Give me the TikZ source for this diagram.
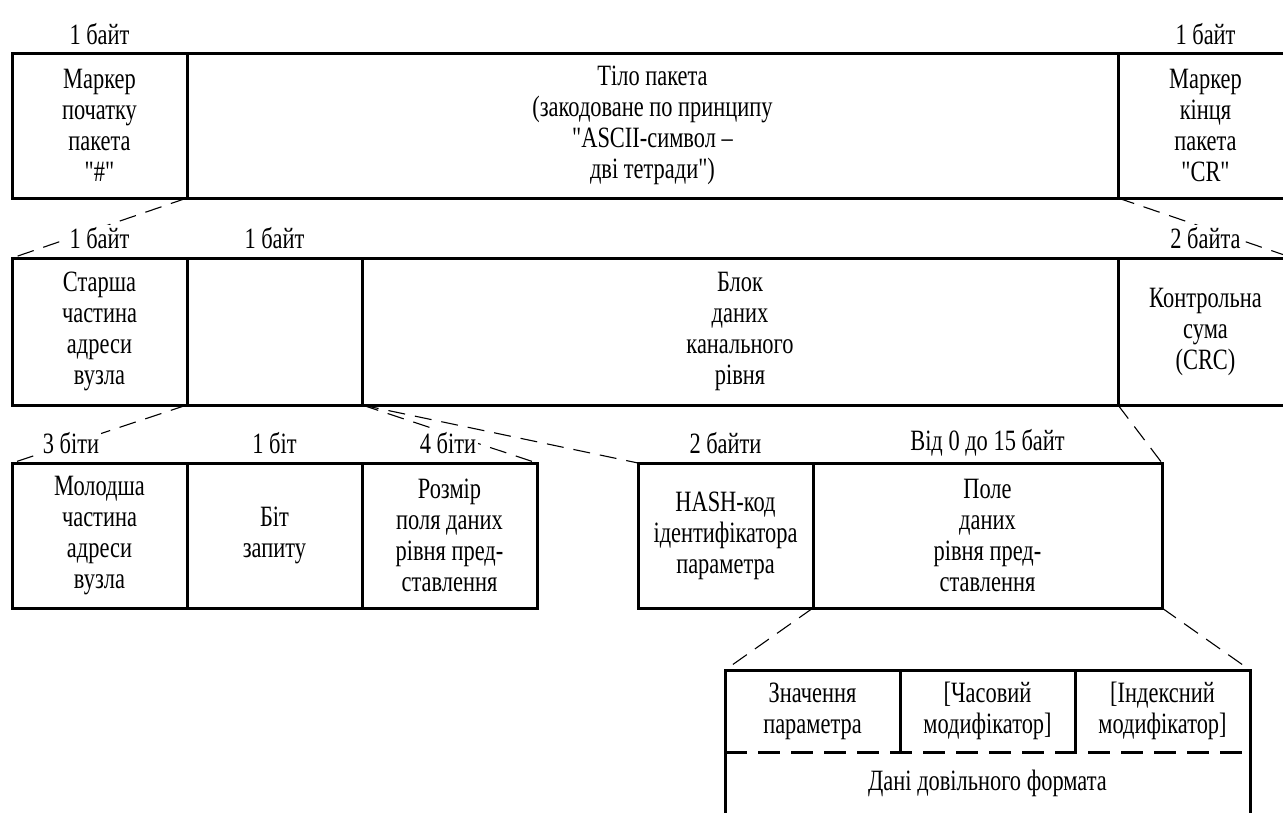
\documentclass[tikz,border=0pt]{standalone}
\usepackage{fontspec}
\setmainfont{Liberation Serif}[FakeStretch=0.76, Ligatures=TeXOff]
\usetikzlibrary{calc}
\newcommand\cellfont{\fontsize{29.5}{31}\selectfont}
\begin{document}
\begin{tikzpicture}[x=1pt,y=-1pt,
  cell/.style={draw, line width=3pt, outer sep=0pt, inner sep=2pt,
    align=center, font=\cellfont, minimum width=175pt},
  row1/.style={cell, minimum height=145pt},
  row2/.style={cell, minimum height=147pt},
  row3/.style={cell, minimum height=145pt},
  sub/.style={outer sep=0pt, inner sep=0pt, align=center, font=\cellfont,
    minimum width=175pt, minimum height=82pt},
  frame/.style={line width=3pt},
  split/.style={line width=3pt, dash pattern=on 22pt off 11pt},
  proj/.style={line width=1.1pt, dash pattern=on 17pt off 10pt},
  lbl/.style={fill=white, inner sep=2pt, font=\cellfont}]
\useasboundingbox (0,0) rectangle (1283,812);
\fill[white] (0,0) rectangle (1283,812);
\clip (0,0) rectangle (1283,812);

% packet frame
\node[row1] (beg)  at (99.5,125.5) {Маркер\\початку\\пакета\\"\#"};
\node[row1, minimum width=931pt] (body) at (652.5,125.5)
  {Тіло пакета\\(закодоване по принципу\\"ASCII-символ –\\дві тетради")};
\node[row1] (fin)  at (1205.5,125.5) {Маркер\\кінця\\пакета\\"CR"};

% link layer
\node[row2] (hi)   at (99.5,331.5) {Старша\\частина\\адреси\\вузла};
\node[row2] (ctl)  at (274.5,331.5) {};
\node[row2, minimum width=756pt] (blk) at (740,331.5)
  {Блок\\даних\\канального\\рівня};
\node[row2] (crc)  at (1205.5,331.5) {Контрольна\\сума\\(CRC)};

% control byte bits
\node[row3] (lo)   at (99.5,535.5) {Молодша\\частина\\адреси\\вузла};
\node[row3] (req)  at (274.5,535.5) {Біт\\запиту};
\node[row3] (size) at (449.5,535.5) {Розмір\\поля даних\\рівня пред-\\ставлення};

% presentation layer
\node[row3] (hash) at (725.5,535.5) {HASH-код\\ідентифікатора\\параметра};
\node[row3, minimum width=349pt] (pole) at (987.5,535.5)
  {Поле\\даних\\рівня пред-\\ставлення};

% data field contents
\node[sub] (val)  at (812.5,711) {Значення\\параметра};
\node[sub] (tmod) at (987.5,711) {[Часовий\\модифікатор]};
\node[sub] (imod) at (1162.5,711) {[Індексний\\модифікатор]};
\node[font=\cellfont] (data) at (987.5,783) {Дані довільного формата};
\coordinate (vl) at ($(val.south west)+(0,80)$);
\coordinate (vr) at ($(imod.south east)+(0,80)$);
\draw[frame] (vl) -- (val.north west) -- (imod.north east) -- (vr);
\draw[frame] (val.north east) -- (val.south east);
\draw[frame] (tmod.north east) -- (tmod.south east);
\draw[split] (val.south west) -- (imod.south east);

% projection lines
\draw[proj] (beg.south east) -- (hi.north west);
\draw[proj] (fin.south west) -- (crc.north east);
\draw[proj] (hi.south east) -- (lo.north west);
\draw[proj] (ctl.south east) -- (size.north east);
\draw[proj] (ctl.south east) -- (hash.north west);
\draw[proj] (crc.south west) -- (pole.north east);
\draw[proj] (hash.south east) -- (val.north west);
\draw[proj] (pole.south east) -- (imod.north east);

% field sizes
\node[lbl] (s1) at (99.5,34) {1 байт};
\node[lbl] (s2) at (1205.5,34) {1 байт};
\node[lbl] (s3) at (99.5,238) {1 байт};
\node[lbl] (s4) at (274.5,238) {1 байт};
\node[lbl] (s5) at (1205.5,238) {2 байта};
\node[lbl] (s6) at (71,443) {3 біти};
\node[lbl] (s7) at (274.5,443) {1 біт};
\node[lbl] (s8) at (448,443) {4 біти};
\node[lbl] (s9) at (725.5,443) {2 байти};
\node[lbl] (s10) at (987.5,443) {Від 0 до 15 байт};
\end{tikzpicture}
\end{document}
